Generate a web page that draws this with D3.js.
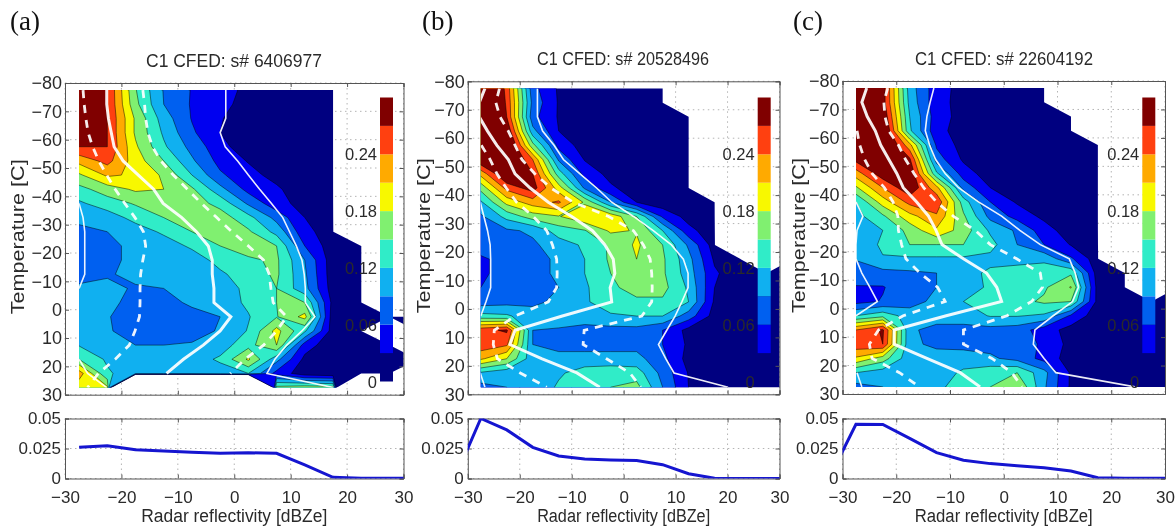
<!DOCTYPE html>
<html>
<head>
<meta charset="utf-8">
<script src="https://cdn.jsdelivr.net/npm/d3@7"></script>
<style>
  html, body { margin: 0; padding: 0; background: #fff; }
  svg { display: block; filter: blur(0.65px); }
  text { font-family: "Liberation Sans", Arial, sans-serif; fill: #2a2a2a; }
  .panel-label { font-family: "Liberation Serif", serif; fill: #111; }
  .axis path, .axis line { stroke: #555; }
  .axis text { font-family: "Liberation Sans", Arial, sans-serif; fill: #2a2a2a; }
  .grid line { stroke: #b4b4b4; stroke-dasharray: 1.5,3.5; }
</style>
</head>
<body>
<div id="chart"></div>
<script>
// data ---------------------------------------------------------------------
const _ = null;  // no samples in this bin

// bin centres of the CFED field
const reflectivityBins = [-27.5, -22.5, -17.5, -12.5, -7.5, -2.5, 2.5, 7.5, 12.5, 17.5, 22.5, 27.5, 32.5];
const temperatureBins = [-77.5, -72.5, -67.5, -62.5, -57.5, -52.5, -47.5, -42.5, -37.5, -32.5, -27.5,
  -22.5, -17.5, -12.5, -7.5, -2.5, 2.5, 7.5, 12.5, 17.5, 22.5, 27.5];
const levels = [0, .03, .06, .09, .12, .15, .18, .21, .24, .27];
const levelColors = ['#000080', '#0000f0', '#0060f0', '#10b0f0', '#30ecc8', '#80f070', '#f8f800', '#ffaa00', '#ff4010', '#800000'];

const titles = ['C1 CFED: s# 6406977', 'C1 CFED: s# 20528496', 'C1 CFED: s# 22604192'];
const panelNames = ['(a)', '(b)', '(c)'];

const tempTicks = [-80, -70, -60, -50, -40, -30, -20, -10, 0, 10, 20, 30];
const dbzTicks = [-30, -20, -10, 0, 10, 20, 30];
const fracTicks = [0, 0.025, 0.05];
const fracTickLabels = ['0', '0.025', '0.05'];
const colorbarTicks = [0, .06, .12, .18, .24];
const colorbarTickLabels = ['0', '0.06', '0.12', '0.18', '0.24'];

const fieldA = [
  [.30,.27,.152,.088,.058,.04,.024,.01,.005,.003,_,_,_],
  [.30,.27,.158,.09,.057,.038,.02,.008,.005,.003,_,_,_],
  [.30,.27,.175,.105,.058,.032,.015,.006,.004,.003,_,_,_],
  [.30,.27,.175,.115,.065,.03,.012,.005,.004,.003,_,_,_],
  [.27,.27,.185,.125,.08,.04,.012,.006,.004,.003,_,_,_],
  [.22,.25,.195,.15,.095,.05,.028,.01,.006,.004,_,_,_],
  [.175,.215,.205,.175,.12,.065,.04,.02,.007,.004,_,_,_],
  [.14,.165,.185,.18,.155,.10,.05,.035,.01,.005,_,_,_],
  [.115,.135,.153,.16,.165,.14,.085,.04,.02,.006,_,_,_],
  [.095,.105,.13,.15,.16,.165,.13,.08,.03,.008,_,_,_],
  [.085,.09,.105,.125,.15,.165,.155,.11,.04,.012,_,_,_],
  [.08,.085,.095,.105,.125,.15,.165,.15,.06,.012,.004,_,_],
  [.08,.085,.095,.10,.105,.13,.145,.155,.09,.012,.004,_,_],
  [.08,.088,.095,.10,.10,.115,.135,.155,.095,.012,.004,_,_],
  [.095,.095,.088,.09,.10,.11,.125,.15,.10,.015,.004,_,_],
  [.10,.098,.08,.08,.095,.105,.125,.15,.15,.02,.004,_,_],
  [.105,.092,.075,.07,.08,.09,.118,.148,.19,.012,.004,.003,.003],
  [.105,.095,.07,.065,.07,.095,.122,.19,.125,.015,.003,_,.003],
  [.118,.105,.09,.09,.095,.105,.14,.18,.045,.01,.003,.003,_],
  [.15,.115,.105,.10,.105,.125,.185,.10,.022,.006,.003,.003,.003],
  [.225,.125,.10,.10,.10,.105,.12,.05,.012,.005,.003,.002,_],
  [.19,.185,_,_,_,_,_,.16,.17,.165,_,_,_]
];

const fieldB = [
  [.36,.26,.07,.026,.008,.004,.003,.002,_,_,_,_,_],
  [.36,.265,.08,.027,.008,.004,.003,.002,_,_,_,_,_],
  [.36,.27,.07,.027,.008,.004,.003,.003,.002,_,_,_,_],
  [.35,.30,.10,.03,.012,.005,.003,.003,.002,_,_,_,_],
  [.30,.33,.16,.05,.016,.006,.003,.003,.002,_,_,_,_],
  [.30,.33,.24,.085,.028,.01,.005,.003,.002,_,_,_,_],
  [.22,.31,.27,.135,.05,.02,.008,.004,.002,_,_,_,_],
  [.16,.25,.285,.195,.085,.035,.015,.006,.003,_,_,_,_],
  [.115,.19,.225,.245,.175,.09,.03,.01,.005,.003,_,_,_],
  [.085,.13,.165,.178,.205,.20,.15,.055,.018,.005,_,_,_],
  [.08,.085,.095,.135,.148,.185,.178,.12,.04,.01,_,_,_],
  [.075,.08,.085,.105,.125,.155,.185,.15,.085,.015,_,_,_],
  [.055,.07,.08,.095,.12,.155,.18,.155,.10,.025,.006,_,.003],
  [.055,.07,.08,.095,.12,.15,.165,.155,.105,.035,.008,.004,.003],
  [.06,.07,.08,.09,.115,.145,.16,.16,.115,.03,.005,.003,.003],
  [.075,.08,.085,.095,.115,.14,.145,.145,.12,.025,.005,.003,.003],
  [.13,.125,.10,.10,.105,.115,.12,.12,.075,.018,.005,.003,.003],
  [.26,.275,.09,.088,.08,.08,.08,.06,.02,.012,.004,.003,.003],
  [.26,.245,.09,.085,.08,.08,.08,.06,.025,.01,.004,.003,.003],
  [.215,.18,.10,.095,.10,.10,.10,.07,.018,.008,.004,.003,.003],
  [.115,.10,.10,.115,.135,.14,.135,.08,.028,.008,.004,.003,.003],
  [.08,.09,.095,.125,.14,.15,.16,.09,.03,.006,.003,.003,.003]
];

const fieldC = [
  [.36,.285,.105,.042,.02,.006,.003,.002,_,_,_,_,_],
  [.36,.285,.11,.04,.02,.006,.003,.002,_,_,_,_,_],
  [.36,.30,.12,.045,.018,.006,.003,.002,.002,_,_,_,_],
  [.36,.32,.125,.04,.016,.006,.003,.002,.002,_,_,_,_],
  [.34,.33,.22,.055,.018,.007,.004,.003,.002,.002,_,_,_],
  [.28,.33,.275,.075,.025,.008,.004,.003,.002,.002,_,_,_],
  [.225,.29,.30,.125,.045,.014,.006,.003,.002,.002,_,_,_],
  [.175,.24,.295,.22,.08,.03,.012,.005,.003,.002,_,_,_],
  [.12,.195,.25,.265,.135,.06,.026,.01,.004,.002,_,_,_],
  [.11,.145,.20,.235,.155,.08,.05,.022,.005,.002,_,_,_],
  [.105,.12,.16,.205,.165,.115,.085,.045,.012,.003,_,_,_],
  [.10,.125,.15,.15,.15,.13,.09,.06,.028,.006,_,_,_],
  [.092,.118,.115,.115,.115,.112,.112,.112,.065,.012,_,_,_],
  [.075,.08,.085,.09,.11,.125,.13,.14,.145,.014,.004,_,_],
  [.058,.058,.08,.09,.105,.125,.13,.145,.182,.018,.004,_,.003],
  [.05,.062,.078,.098,.12,.135,.14,.155,.15,.02,.005,.003,.003],
  [.12,.14,.105,.105,.105,.122,.122,.115,.055,.012,.004,.003,.003],
  [.24,.275,.095,.08,.08,.08,.075,.045,.018,.008,.004,.003,.003],
  [.26,.27,.095,.085,.08,.08,.075,.055,.02,.006,.004,.003,.003],
  [.205,.165,.10,.10,.105,.095,.08,.05,.015,.004,.003,.003,.003],
  [.12,.105,.10,.105,.125,.14,.15,.10,.025,.006,.003,.003,.003],
  [.08,.09,.10,.115,.13,.15,.18,.095,.025,.005,.003,.003,.003]
];

// percentile curves: reflectivity at each temperature bin
const thinRightA = [-1.5,-1.5,-1.5,-2.5,-1.6,0.6,2.5,4.5,6.6,8.6,9.8,11,12,12.4,12.6,12.6,14.3,12,9.3,7.2,5.8,17.6];
const thickA = [-22.6,-22.6,-22.3,-21.8,-21.3,-19.7,-17,-14.3,-12.6,-9.3,-6.7,-4.6,-3.9,-3.9,-3.6,-3.6,-0.6,-2.5,-5.5,-9,-12,_];
const dashRightA = [-16.2,-15.9,-15.7,-15.3,-14.5,-13,-10.8,-8.3,-5.8,-3.1,-0.4,2.5,5.2,6.2,6.5,6.9,9.3,7.5,5.2,1.9,-0.7,_];
const dashLeftA = [-26.8,-26.6,-26.3,-25.9,-25.1,-24,-22.6,-21.1,-19.4,-17.6,-16.1,-15.7,-16.2,-16.6,-16.7,-16.7,-16.8,-17.6,-18.6,-21.1,-24.1,-26];
const thinLeftA = [_,_,_,_,_,_,_,_,-27.5,-26.8,-26.5,-26.5,-26.5,-26.5,-27.5,_,_,_,_,-27.5,-26,-22.6];

const thinRightB = [-16.6,-16.6,-16.6,-15.6,-13.4,-11.6,-8.4,-5.2,-2.3,1.9,5.7,9.2,11.5,12.4,12.4,11.2,9.9,8.3,6.7,8.1,9.7,20.1];
const thickB = [-26.7,-27.8,-27.8,-26.2,-24.4,-22.2,-20.9,-18,-14.5,-10,-6,-3.6,-2,-1.7,-2.6,-2.3,-11.8,-20.9,-21.9,-15.8,-9,-4.6];
const dashRightB = [-23.9,-24.6,-23.8,-22.2,-20.9,-19.6,-17.1,-14,-9.7,-2.9,1.9,3.8,5.1,5.4,5.5,5.4,3.5,-7.6,-7.8,-3.3,1.2,3.3];
const dashLeftB = [_,_,_,_,-27.4,-25.7,-24.4,-22.6,-20.6,-17.4,-14.8,-13.7,-12.9,-12.8,-12.9,-14.5,-20.9,-24.9,-25.1,-24.3,-19.9,-14.8];
const thinLeftB = [_,_,_,_,_,_,_,_,-27.6,-26.9,-26.2,-25.7,-25.6,-25.6,-25.6,-26.5,-27.5,_,_,_,-27.6,-26.7];

const thinRightC = [-13,-13.7,-14.3,-14.6,-13.8,-12.7,-10.9,-8.4,-4.7,-0.4,3,6.8,12.2,13.3,13.9,12.8,9.2,5.8,5.5,7.5,9.7,24.4];
const thickC = [-25.5,-26.4,-25.4,-23.9,-22.9,-21.4,-19.9,-18.7,-16.2,-14,-12.6,-11.5,-7.5,-3.2,-1.3,-0.4,-10.7,-20.4,-20.4,-14.3,-8.1,-4.4];
const dashRightC = [-21.6,-22.3,-22.1,-21.4,-19.6,-18.3,-16.7,-14.9,-12.5,-9.4,-5.3,-2.5,2.4,6.8,7.2,5.2,0.6,-7.5,-7.5,-2.2,1.5,3.4];
const dashLeftC = [_,_,_,-27.3,-26.8,-25.9,-24.5,-22.2,-20.6,-19.7,-19.6,-19,-18.2,-15.6,-12.3,-10.9,-18.7,-23.3,-25,-24.5,-19.4,-15.7];
const thinLeftC = [_,_,_,_,_,_,_,_,-27.5,-26.2,-27.3,-27.5,-27.5,-26.4,-24.9,-23.5,-27.5,_,_,_,-27.3,-26.4];

// lower panels: sample fraction per reflectivity bin
const fractionA = [_,.026,.0273,.024,.023,.0218,.021,.0215,.021,.0113,.001,.0003,.0002,.0002];
const fractionB = [0,.05,.0405,.026,.0188,.0163,.0155,.015,.0115,.004,.0002,.0001,.0001,.0001];
const fractionC = [0,.0452,.045,.0334,.0216,.0152,.0124,.0107,.009,.0062,.0006,.0002,.0002,.0002];
const fractionBins = [-32.5, ...reflectivityBins];

const panelData = [
  { field: fieldA, thinRight: thinRightA, thick: thickA, dashRight: dashRightA, dashLeft: dashLeftA, thinLeft: thinLeftA, fraction: fractionA },
  { field: fieldB, thinRight: thinRightB, thick: thickB, dashRight: dashRightB, dashLeft: dashLeftB, thinLeft: thinLeftB, fraction: fractionB },
  { field: fieldC, thinRight: thinRightC, thick: thickC, dashRight: dashRightC, dashLeft: dashLeftC, thinLeft: thinLeftC, fraction: fractionC }
];

// layout -------------------------------------------------------------------
const width = 1176, height = 527;
const lowerTop = 418.5, lowerBottom = 478.5;
const layout = [
  { left: 65, right: 403.5, top: 83, bottom: 394.7, cbLeft: 380, label: 10, titleX: 234, titleY: 66.5, titleLen: 176, xLen: 186, yLabelX: 24 },
  { left: 467.8, right: 779.5, top: 81.3, bottom: 394.3, cbLeft: 757.7, label: 422, titleX: 623, titleY: 65, titleLen: 172, xLen: 173, yLabelX: 430 },
  { left: 842.5, right: 1165, top: 81, bottom: 394, cbLeft: 1142.3, label: 793, titleX: 1004, titleY: 65, titleLen: 178, xLen: 178, yLabelX: 805 }
];
const cbTop = 97.5, cbBottom = 381.5, cbWidth = 13;

const svg = d3.select('#chart').append('svg')
  .attr('width', width)
  .attr('height', height);

const contourMaker = d3.contours()
  .size([reflectivityBins.length, temperatureBins.length])
  .thresholds(levels);

panelData.forEach((d, i) => drawPanel(d, layout[i], i));

function drawPanel(d, box, i) {
  const x = d3.scaleLinear().domain([-30, 30]).range([box.left, box.right]);
  const y = d3.scaleLinear().domain([-80, 30]).range([box.top, box.bottom]);
  const y2 = d3.scaleLinear().domain([0, 0.05]).range([lowerBottom, lowerTop]);
  const g = svg.append('g');

  svg.append('text')
    .attr('class', 'panel-label')
    .attr('x', box.label)
    .attr('y', 30)
    .style('font-size', '27px')
    .text(panelNames[i]);

  g.append('text')
    .attr('x', box.titleX)
    .attr('y', box.titleY)
    .attr('text-anchor', 'middle')
    .attr('textLength', box.titleLen)
    .attr('lengthAdjust', 'spacingAndGlyphs')
    .style('font-size', '19px')
    .text(titles[i]);

  // dotted grid sits under the filled contours
  const grid = g.append('g').attr('class', 'grid');
  grid.selectAll('.vx').data(dbzTicks).enter().append('line')
    .attr('x1', t => x(t)).attr('x2', t => x(t))
    .attr('y1', box.top).attr('y2', box.bottom);
  grid.selectAll('.hy').data(tempTicks).enter().append('line')
    .attr('y1', t => y(t)).attr('y2', t => y(t))
    .attr('x1', box.left).attr('x2', box.right);

  // filled contours, bins without samples sit below the first level
  const clipId = 'field-' + i;
  g.append('clipPath').attr('id', clipId).append('rect')
    .attr('x', x(reflectivityBins[0]))
    .attr('y', y(temperatureBins[0]))
    .attr('width', x(30) - x(reflectivityBins[0]))
    .attr('height', y(temperatureBins[temperatureBins.length - 1]) - y(temperatureBins[0]));

  const gridToData = d3.geoTransform({
    point(px, py) {
      this.stream.point(x(reflectivityBins[0] + (px - 0.5) * 5), y(temperatureBins[0] + (py - 0.5) * 5));
    }
  });
  const path = d3.geoPath(gridToData);
  const flat = d.field.flat().map(v => v === null ? -1 : v);

  const field = g.append('g').attr('clip-path', `url(#${clipId})`);
  field.selectAll('path')
    .data(contourMaker(flat))
    .enter().append('path')
    .attr('d', path)
    .attr('fill', c => levelColors[levels.indexOf(c.value)])
    .attr('stroke', c => c.value >= .03 ? '#000' : 'none')
    .attr('stroke-opacity', 0.6)
    .attr('stroke-width', 0.8);

  // percentile curves
  const curve = d3.line()
    .defined(v => v !== null)
    .x(v => x(v))
    .y((v, k) => y(temperatureBins[k]));

  const curves = [
    { values: d.thinLeft, w: 1.6, dash: null },
    { values: d.thinRight, w: 1.6, dash: null },
    { values: d.dashLeft, w: 2.8, dash: '8,7' },
    { values: d.dashRight, w: 2.8, dash: '8,7' },
    { values: d.thick, w: 3, dash: null }
  ];
  field.selectAll('.curve').data(curves).enter().append('path')
    .attr('class', 'curve')
    .attr('fill', 'none')
    .attr('stroke', '#fff')
    .attr('stroke-opacity', 0.92)
    .attr('stroke-width', c => c.w)
    .attr('stroke-dasharray', c => c.dash)
    .attr('d', c => curve(c.values));

  // axes
  const tempFormat = d3.format('d');
  g.append('g').attr('class', 'axis')
    .attr('transform', `translate(${box.left},0)`)
    .call(d3.axisLeft(y).tickValues(tempTicks).tickSize(-4).tickPadding(3).tickFormat(tempFormat))
    .style('font-size', '18px');
  g.append('g').attr('class', 'axis')
    .attr('transform', `translate(${box.right},0)`)
    .call(d3.axisRight(y).tickValues(tempTicks).tickSize(-4).tickFormat(''));
  g.append('g').attr('class', 'axis')
    .attr('transform', `translate(0,${box.bottom})`)
    .call(d3.axisBottom(x).tickValues(dbzTicks).tickSize(-4).tickFormat(''));
  g.append('g').attr('class', 'axis')
    .attr('transform', `translate(0,${box.top})`)
    .call(d3.axisTop(x).tickValues(dbzTicks).tickSize(-4).tickFormat(''));

  g.append('text')
    .attr('transform', `translate(${box.yLabelX},${(box.top + box.bottom) / 2 - 2}) rotate(-90)`)
    .attr('text-anchor', 'middle')
    .attr('textLength', 155)
    .attr('lengthAdjust', 'spacingAndGlyphs')
    .style('font-size', '19px')
    .text('Temperature [C]');

  // colorbar inside the axes
  const cb = d3.scaleLinear().domain([0, 0.3]).range([cbBottom, cbTop]);
  g.selectAll('.cb').data(levels).enter().append('rect')
    .attr('class', 'cb')
    .attr('x', box.cbLeft)
    .attr('width', cbWidth)
    .attr('y', l => cb(l + 0.03))
    .attr('height', l => cb(l) - cb(l + 0.03))
    .attr('fill', l => levelColors[levels.indexOf(l)]);
  g.selectAll('.cb-label').data(colorbarTicks).enter().append('text')
    .attr('class', 'cb-label')
    .attr('x', box.cbLeft - 3)
    .attr('y', t => cb(t) + 6)
    .attr('text-anchor', 'end')
    .style('font-size', '16.5px')
    .text((t, k) => colorbarTickLabels[k]);

  // lower panel
  const lower = g.append('g');
  const lowerClip = 'fraction-' + i;
  lower.append('clipPath').attr('id', lowerClip).append('rect')
    .attr('x', box.left).attr('y', lowerTop)
    .attr('width', box.right - box.left).attr('height', lowerBottom - lowerTop);

  const lowerGrid = lower.append('g').attr('class', 'grid');
  lowerGrid.selectAll('.vx').data(dbzTicks).enter().append('line')
    .attr('x1', t => x(t)).attr('x2', t => x(t))
    .attr('y1', lowerTop).attr('y2', lowerBottom);
  lowerGrid.selectAll('.hy').data(fracTicks).enter().append('line')
    .attr('y1', t => y2(t)).attr('y2', t => y2(t))
    .attr('x1', box.left).attr('x2', box.right);

  lower.append('g').attr('class', 'axis')
    .attr('transform', `translate(${box.left},0)`)
    .call(d3.axisLeft(y2).tickValues(fracTicks).tickSize(-4).tickPadding(4).tickFormat((t, k) => fracTickLabels[k]))
    .style('font-size', '17px');
  lower.append('g').attr('class', 'axis')
    .attr('transform', `translate(${box.right},0)`)
    .call(d3.axisRight(y2).tickValues(fracTicks).tickSize(-4).tickFormat(''));
  lower.append('g').attr('class', 'axis')
    .attr('transform', `translate(0,${lowerTop})`)
    .call(d3.axisTop(x).tickValues(dbzTicks).tickSize(-4).tickFormat(''));
  lower.append('g').attr('class', 'axis')
    .attr('transform', `translate(0,${lowerBottom})`)
    .call(d3.axisBottom(x).tickValues(dbzTicks).tickSize(-4).tickPadding(12).tickFormat(tempFormat))
    .style('font-size', '17px');

  const fractionLine = d3.line()
    .defined(v => v !== null)
    .x((v, k) => x(fractionBins[k]))
    .y(v => y2(v));
  lower.append('path')
    .attr('clip-path', `url(#${lowerClip})`)
    .attr('fill', 'none')
    .attr('stroke', '#1515d0')
    .attr('stroke-width', 3)
    .attr('d', fractionLine(d.fraction));

  lower.append('text')
    .attr('x', (box.left + box.right) / 2)
    .attr('y', 522)
    .attr('text-anchor', 'middle')
    .attr('textLength', box.xLen)
    .attr('lengthAdjust', 'spacingAndGlyphs')
    .style('font-size', '18px')
    .text('Radar reflectivity [dBZe]');
}
</script>
</body>
</html>
